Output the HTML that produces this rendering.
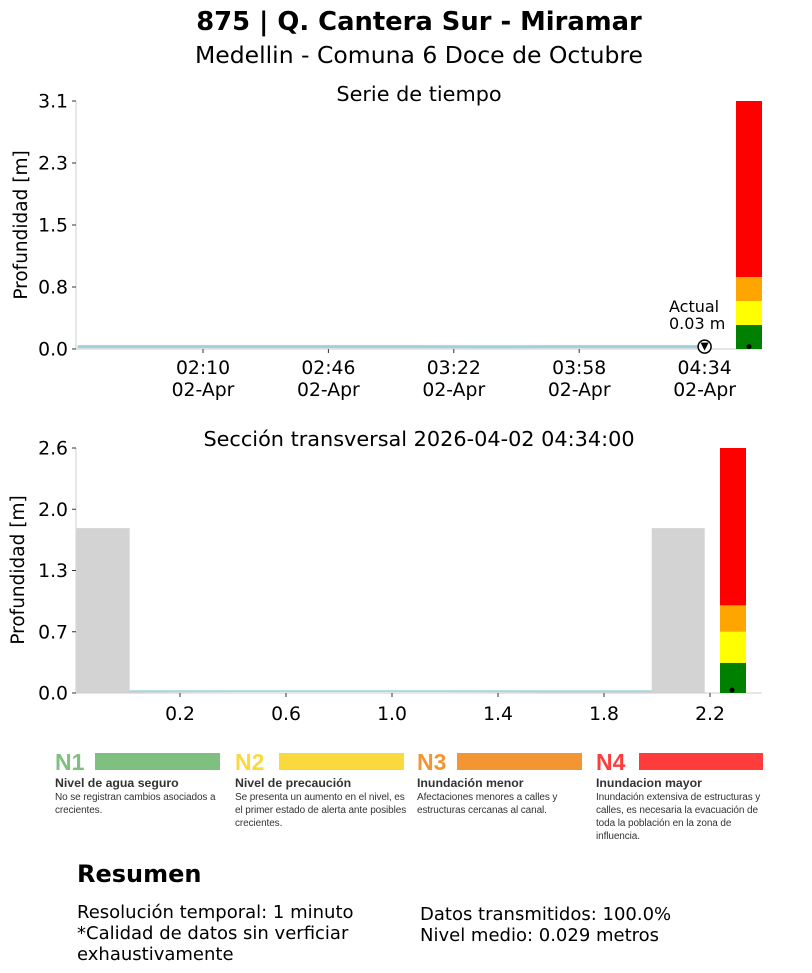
<!DOCTYPE html>
<html><head><meta charset="utf-8">
<style>
body{margin:0;background:#fff;width:812px;height:973px;overflow:hidden;font-family:"DejaVu Sans","Liberation Sans",sans-serif}
svg text{font-family:"DejaVu Sans","Liberation Sans",sans-serif}
.lg{position:absolute;top:750px;width:172px;font-family:"Liberation Sans",sans-serif;color:#333}
.lg .n{font-weight:bold;font-size:23px;line-height:24px;display:inline-block;width:38px}
.lg .bar{position:absolute;left:40px;top:3px;width:125px;height:17px}
.lg .t{font-weight:bold;font-size:12.3px;margin-top:1px}
.lg .d{font-size:10px;line-height:13px;margin-top:1px;letter-spacing:-0.1px}
.sum{position:absolute;font-family:"DejaVu Sans","Liberation Sans",sans-serif;font-size:18px;line-height:21px;color:#000}
</style></head><body>
<svg id="svg" width="812" height="973" style="position:absolute;left:0;top:0">
<text x="419" y="30" text-anchor="middle" font-size="25.8" font-weight="bold">875 | Q. Cantera Sur - Miramar</text>
<text x="419" y="63" text-anchor="middle" font-size="23.5">Medellin - Comuna 6 Doce de Octubre</text>
<text x="419" y="101" text-anchor="middle" font-size="20.8">Serie de tiempo</text>
<text x="419" y="446" text-anchor="middle" font-size="20.8">Sección transversal 2026-04-02 04:34:00</text>
<g id="ts"></g><g id="xs"></g>
</svg>

<div class="lg" style="left:55px"><span class="n" style="color:#7fbf7f">N1</span><div class="bar" style="background:#7fbf7f"></div><div class="t">Nivel de agua seguro</div><div class="d">No se registran cambios asociados a crecientes.</div></div>
<div class="lg" style="left:235px"><span class="n" style="color:#f9d93e">N2</span><div class="bar" style="background:#f9d93e;left:44px"></div><div class="t">Nivel de precaución</div><div class="d">Se presenta un aumento en el nivel, es el primer estado de alerta ante posibles crecientes.</div></div>
<div class="lg" style="left:417px"><span class="n" style="color:#f39533">N3</span><div class="bar" style="background:#f39533"></div><div class="t">Inundación menor</div><div class="d">Afectaciones menores a calles y estructuras cercanas al canal.</div></div>
<div class="lg" style="left:596px"><span class="n" style="color:#ff3b3b">N4</span><div class="bar" style="background:#ff3b3b;left:43px;width:124px"></div><div class="t">Inundacion mayor</div><div class="d">Inundación extensiva de estructuras y calles, es necesaria la evacuación de toda la población en la zona de influencia.</div></div>

<div class="sum" style="left:77px;top:864px;font-size:24px;font-weight:bold">Resumen</div>
<div class="sum" style="left:77px;top:902px">Resolución temporal: 1 minuto<br>*Calidad de datos sin verficiar<br>exhaustivamente</div>
<div class="sum" style="left:420px;top:904px">Datos transmitidos: 100.0%<br>Nivel medio: 0.029 metros</div>

<script>
// ---- time series data ----
const tsTimes = [94,110,130,150,170,190,210,230,250,274]; // minutes since 00:00
const tsDepth = [0.03,0.03,0.03,0.029,0.029,0.029,0.028,0.029,0.029,0.03];
const tsTickMin = [130,166,202,238,274];
const tsTickLabels = ["02:10","02:46","03:22","03:58","04:34"];
const tsYTicks = [0,0.775,1.55,2.325,3.1];
const tsYLabels = ["0.0","0.8","1.5","2.3","3.1"];
const levelBounds = [0,0.3,0.6,0.9,3.1];
const levelColors = ["green","yellow","orange","red"];
// ---- cross-section data ----
const xsGroundX = [-0.19,0.01,0.01,0.4,0.8,1.2,1.6,1.98,1.98,2.18];
const xsGroundY = [1.75,1.75,0.01,0.005,0.005,0.005,0.01,0.02,1.75,1.75];
const xsWater = 0.03;
const xsXTicks = [0.2,0.6,1.0,1.4,1.8,2.2];
const xsYTicks = [0,0.65,1.3,1.95,2.6];
const xsYLabels = ["0.0","0.7","1.3","2.0","2.6"];
const xsLevelBounds = [0,0.32,0.65,0.93,2.6];

const NS="http://www.w3.org/2000/svg";
function mk(p,tag,a){const e=document.createElementNS(NS,tag);for(const k in a)e.setAttribute(k,a[k]);p.appendChild(e);return e;}

const ts=document.getElementById('ts');
const tx=m=>203+(m-130)*125.4/36, ty=v=>349-v*248/3.1;
let e=mk(ts,'line',{x1:76,y1:101,x2:76,y2:349,stroke:'#ccc'});

e=mk(ts,'line',{x1:76,y1:349,x2:762,y2:349,stroke:'#ccc'});

tsYTicks.forEach((v,i)=>{
 mk(ts,'line',{x1:72,x2:76,y1:ty(v),y2:ty(v),stroke:'#333'});
 const t=mk(ts,'text',{x:68,y:ty(v)+6.5,'text-anchor':'end','font-size':18.8});t.textContent=tsYLabels[i];
 
});
tsTickMin.forEach((m,i)=>{
 mk(ts,'line',{x1:tx(m),x2:tx(m),y1:349,y2:353,stroke:'#333'});
 let t=mk(ts,'text',{x:tx(m),y:374,'text-anchor':'middle','font-size':18.8});t.textContent=tsTickLabels[i];
 
 t=mk(ts,'text',{x:tx(m),y:396,'text-anchor':'middle','font-size':18.8});t.textContent="02-Apr";
 
});
e=mk(ts,'text',{transform:'translate(27,225) rotate(-90)','text-anchor':'middle','font-size':18.5});e.textContent='Profundidad [m]';

e=mk(ts,'polyline',{points:tsTimes.map((m,i)=>Math.max(76,tx(m))+','+ty(tsDepth[i])).join(' '),fill:'none',stroke:'#9ed0dd','stroke-width':3});

const lastX=tx(tsTimes[tsTimes.length-1]), lastY=ty(tsDepth[tsDepth.length-1]);
e=mk(ts,'circle',{cx:lastX,cy:lastY,r:6.5,fill:'#fff',stroke:'#000','stroke-width':1.5});

mk(ts,'path',{d:`M${lastX-4},${lastY-4} L${lastX+4},${lastY-4} L${lastX},${lastY+4} Z`,fill:'#000'});
e=mk(ts,'text',{x:669,y:312,'font-size':16});e.textContent='Actual';

e=mk(ts,'text',{x:669,y:329,'font-size':16});e.textContent=tsDepth[tsDepth.length-1].toFixed(2)+' m';

levelColors.forEach((c,i)=>{
 const r=mk(ts,'rect',{x:736,width:26,y:ty(levelBounds[i+1]),height:ty(levelBounds[i])-ty(levelBounds[i+1]),fill:c});
 
});
mk(ts,'circle',{cx:749,cy:ty(tsDepth[tsDepth.length-1]),r:2.5,fill:'#000'});

const xs=document.getElementById('xs');
const sx=v=>127+v*265, sy=v=>693-v*245/2.6;
let pts=xsGroundX.map((v,i)=>sx(v)+','+sy(xsGroundY[i]));
e=mk(xs,'polygon',{points:`${sx(xsGroundX[0])},${sy(0)} `+pts.join(' ')+` ${sx(xsGroundX[xsGroundX.length-1])},${sy(0)}`,fill:'#d3d3d3'});

e=mk(xs,'rect',{x:sx(0.01),width:sx(1.98)-sx(0.01),y:sy(xsWater),height:sy(0)-sy(xsWater)-1,fill:'#a6d8e3'});

e=mk(xs,'line',{x1:76,y1:448,x2:76,y2:693,stroke:'#ccc'});

e=mk(xs,'line',{x1:76,y1:693,x2:762,y2:693,stroke:'#ccc'});

xsYTicks.forEach((v,i)=>{
 mk(xs,'line',{x1:72,x2:76,y1:sy(v),y2:sy(v),stroke:'#333'});
 const t=mk(xs,'text',{x:68,y:sy(v)+6.5,'text-anchor':'end','font-size':18.8});t.textContent=xsYLabels[i];
 
});
xsXTicks.forEach(v=>{
 mk(xs,'line',{x1:sx(v),x2:sx(v),y1:693,y2:697,stroke:'#333'});
 const t=mk(xs,'text',{x:sx(v),y:720,'text-anchor':'middle','font-size':18.8});t.textContent=v.toFixed(1);
 
});
e=mk(xs,'text',{transform:'translate(24,570) rotate(-90)','text-anchor':'middle','font-size':18.5});e.textContent='Profundidad [m]';

levelColors.forEach((c,i)=>{
 const r=mk(xs,'rect',{x:720,width:26,y:sy(xsLevelBounds[i+1]),height:sy(xsLevelBounds[i])-sy(xsLevelBounds[i+1]),fill:c});
 
});
mk(xs,'circle',{cx:732,cy:sy(xsWater),r:2.5,fill:'#000'});
</script>
</body></html>
